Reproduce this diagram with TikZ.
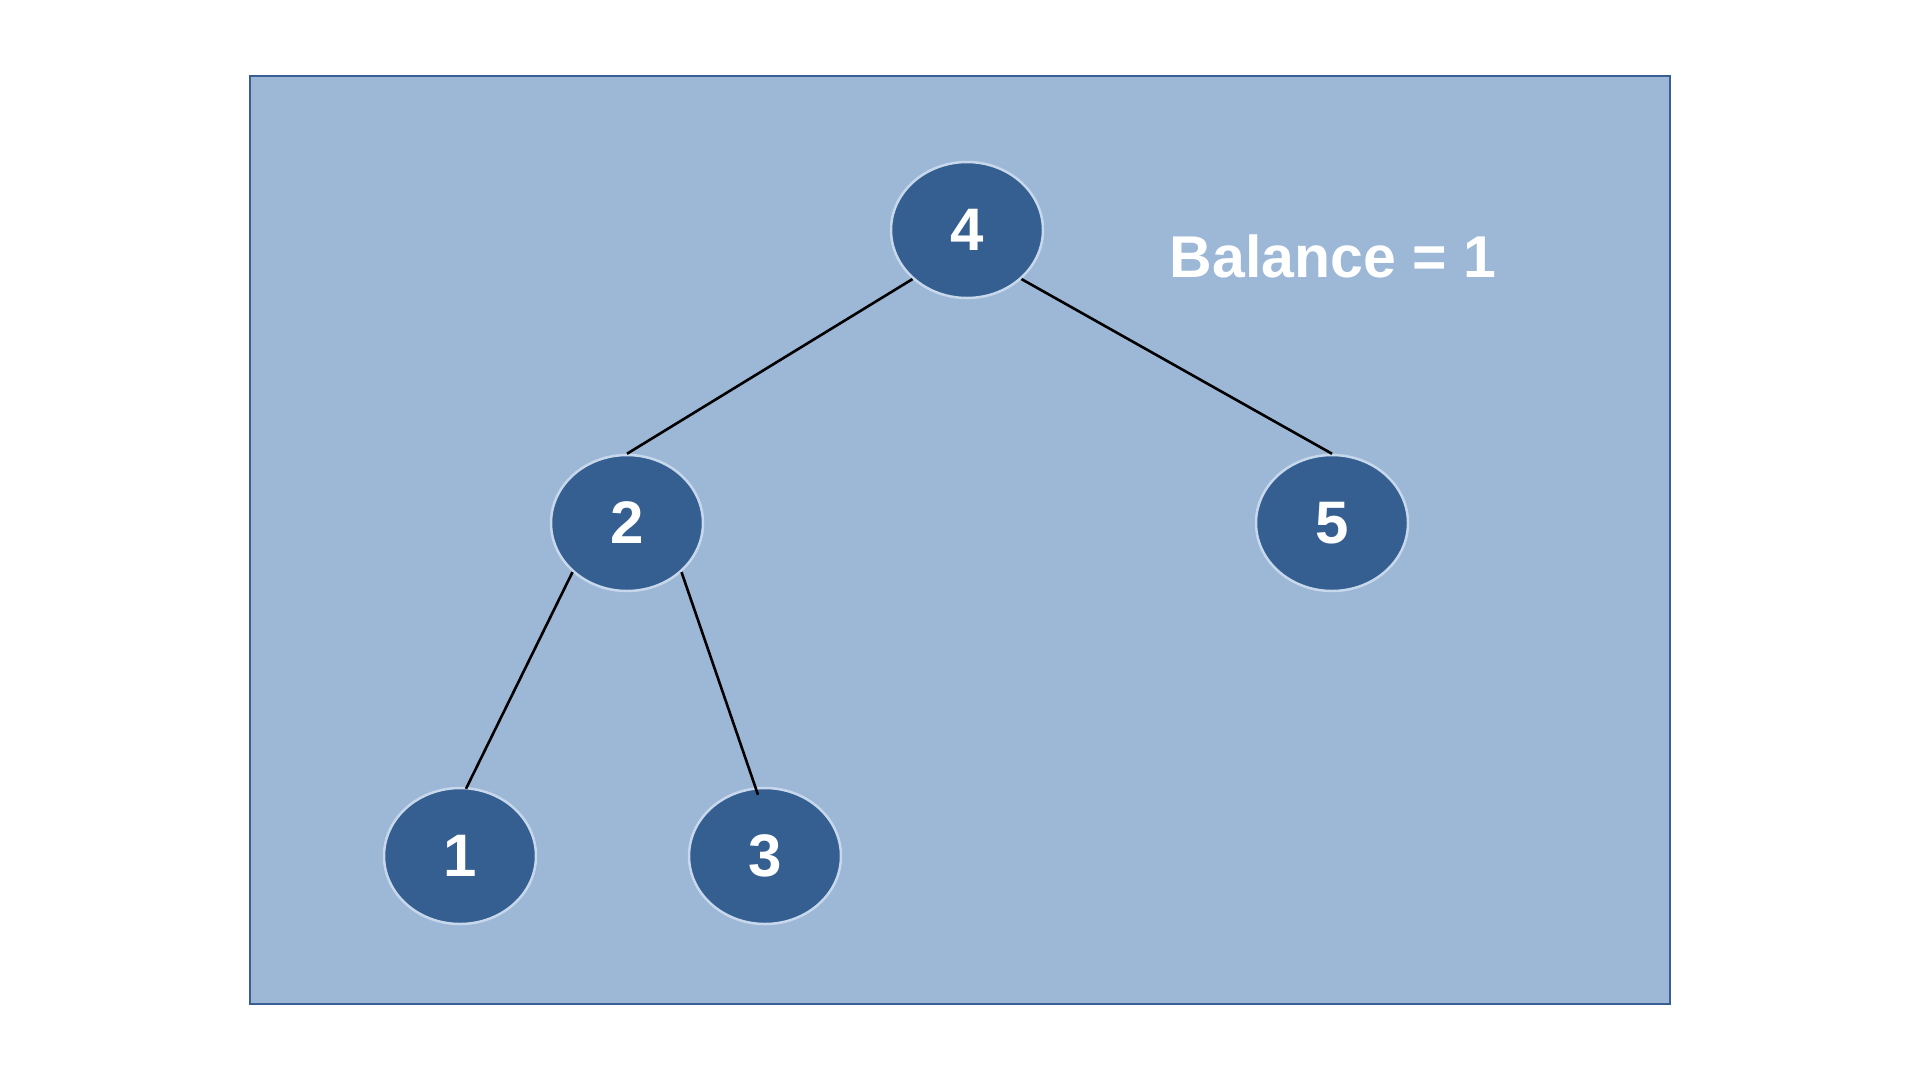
\documentclass[tikz,border=0pt]{standalone}
\usepackage{fontspec}
\setmainfont{Liberation Sans}
\usetikzlibrary{shapes.geometric,calc}
\definecolor{panel}{HTML}{9DB7D6}
\definecolor{panelrim}{HTML}{3A5F96}
\definecolor{keyfill}{HTML}{355F91}
\definecolor{keyrim}{HTML}{C8D8EC}
\tikzset{
  key/.style={ellipse, fill=keyfill, draw=keyrim, line width=2.5pt,
    minimum width=152pt, minimum height=136pt, inner sep=0pt,
    text=white, font=\fontsize{60}{60}\selectfont\bfseries},
  branch/.style={black, line width=2.6pt},
}
\begin{document}
\begin{tikzpicture}[x=1pt, y=-1pt]
  \useasboundingbox (0,0) rectangle (1920,1080);
  \fill[white] (0,0) rectangle (1920,1080);
  \draw[panelrim, fill=panel, line width=2.5pt] (250,76) rectangle (1670,1004);

  \node[key] (n4) at (967,230) {4};
  \node[key] (n2) at (627,523) {2};
  \node[key] (n5) at (1332,523) {5};
  \node[key] (n1) at (460,856) {1};
  \node[key] (n3) at (765,856) {3};

  \node[text=white, font=\fontsize{59}{59}\selectfont\bfseries, inner sep=0pt]
    (bal) at (1333,256) {Balance = 1};

  \draw[branch] (n4.222) -- (n2.north);
  \draw[branch] (n4.318) -- (n5.north);
  \draw[branch] (n2.222) -- ($(n1.north)+(6,2)$);
  \draw[branch] (n2.318) -- ($(n3.north)+(-7,8)$);
\end{tikzpicture}
\end{document}
